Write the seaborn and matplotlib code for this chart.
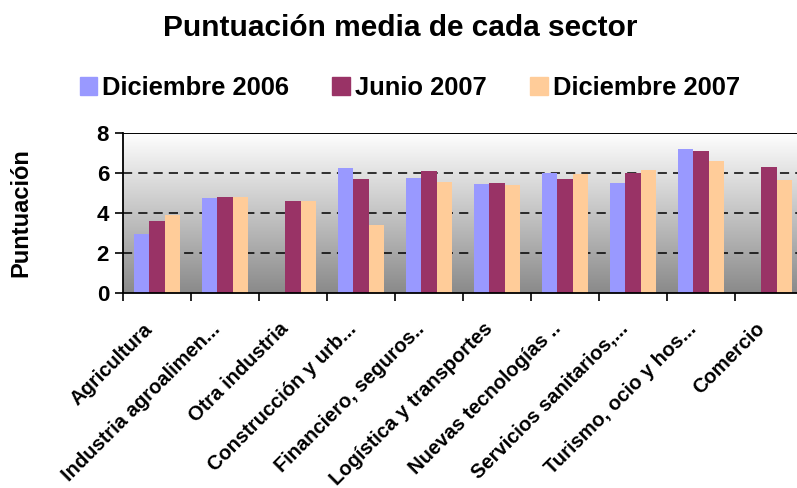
import numpy as np
import pandas as pd
import matplotlib.pyplot as plt
import matplotlib.transforms as mtransforms
import seaborn as sns
from matplotlib.colors import LinearSegmentedColormap

# Data
sectores = ['Agricultura', 'Industria agroalimen...', 'Otra industria',
            'Construcción y urb...', 'Financiero, seguros..',
            'Logística y transportes', 'Nuevas tecnologías ..',
            'Servicios sanitarios,...', 'Turismo, ocio y hos...', 'Comercio']
dic_2006 = [2.95, 4.75, np.nan, 6.25, 5.75, 5.45, 6.0, 5.5, 7.2, np.nan]
jun_2007 = [3.6, 4.8, 4.6, 5.7, 6.1, 5.5, 5.7, 6.0, 7.1, 6.3]
dic_2007 = [3.9, 4.8, 4.6, 3.4, 5.55, 5.4, 5.95, 6.15, 6.6, 5.65]
series = ['Diciembre 2006', 'Junio 2007', 'Diciembre 2007']
colores = ['#9999FF', '#993366', '#FFCC99']

df = pd.DataFrame({'sector': sectores, series[0]: dic_2006,
                   series[1]: jun_2007, series[2]: dic_2007})
df_long = df.melt(id_vars='sector', var_name='periodo', value_name='valor')

sns.set_style('white')
plt.rcParams['font.family'] = ['Liberation Sans', 'DejaVu Sans']
plt.rcParams['font.weight'] = 'bold'
for key in ['text.color', 'axes.labelcolor', 'xtick.color', 'ytick.color']:
    plt.rcParams[key] = 'black'

fig = plt.figure(figsize=(7.97, 4.88), dpi=100)
ax = fig.add_axes([0.1543, 0.3996, 0.8532, 0.3279])

# Gradient background (white at top, grey at bottom)
cmap = LinearSegmentedColormap.from_list('bg', ['#8a8a8a', '#ffffff'])
grad = np.linspace(0, 1, 256).reshape(-1, 1)
ax.imshow(grad, cmap=cmap, extent=[0, 1, 0, 1], transform=ax.transAxes,
          origin='lower', aspect='auto', zorder=0)

sns.barplot(data=df_long, x='sector', y='valor', hue='periodo',
            hue_order=series, palette=colores, width=0.69,
            saturation=1, linewidth=0, edgecolor='none',
            ax=ax, zorder=3, legend=False)

ax.set_xlim(-0.5, len(sectores) - 0.5)
ax.set_ylim(0, 8)
ax.set_yticks([0, 2, 4, 6, 8])
for y in [2, 4, 6]:
    ax.axhline(y, color='black', linestyle=(0, (6, 4)), linewidth=1.1, zorder=1)
ax.axhline(8, color='black', linewidth=1.4, zorder=1)

for side in ['top', 'right']:
    ax.spines[side].set_visible(False)
for side in ['left', 'bottom']:
    ax.spines[side].set_color('black')
    ax.spines[side].set_linewidth(1.3)
    ax.spines[side].set_zorder(5)

# ticks: labels at centres, marks at boundaries
ax.set_xticks(range(len(sectores)))
ax.set_xticklabels(sectores, rotation=45, ha='right', rotation_mode='anchor',
                   fontsize=14.5, fontweight='bold')
ax.tick_params(axis='x', length=0, pad=19)
shift = mtransforms.ScaledTranslation(-14 / 100, 0, fig.dpi_scale_trans)
for lbl in ax.get_xticklabels():
    lbl.set_transform(lbl.get_transform() + shift)
ax.set_xticks(np.arange(-0.5, len(sectores), 1), minor=True)
ax.tick_params(axis='x', which='minor', length=6, width=1.2, color='black',
               direction='out', bottom=True)
ax.tick_params(axis='y', length=6, width=1.2, color='black', direction='out',
               left=True, labelsize=16, pad=4)
for lbl in ax.get_yticklabels():
    lbl.set_fontweight('bold')

ax.set_xlabel('')
ax.set_ylabel('Puntuación', fontsize=17, fontweight='bold', labelpad=46)

fig.text(0.502, 0.943, 'Puntuación media de cada sector', fontsize=21.5,
         fontweight='bold', ha='center', va='center')

handles = [plt.Rectangle((0, 0), 1, 1, color=c) for c in colores]
fig.legend(handles, series, loc='center', bbox_to_anchor=(0.514, 0.82),
           ncol=3, frameon=False, prop={'size': 18.4, 'weight': 'bold'},
           handlelength=0.68, handleheight=0.68, handletextpad=0.2,
           columnspacing=1.7)

fig.savefig('out.png', dpi=100)
